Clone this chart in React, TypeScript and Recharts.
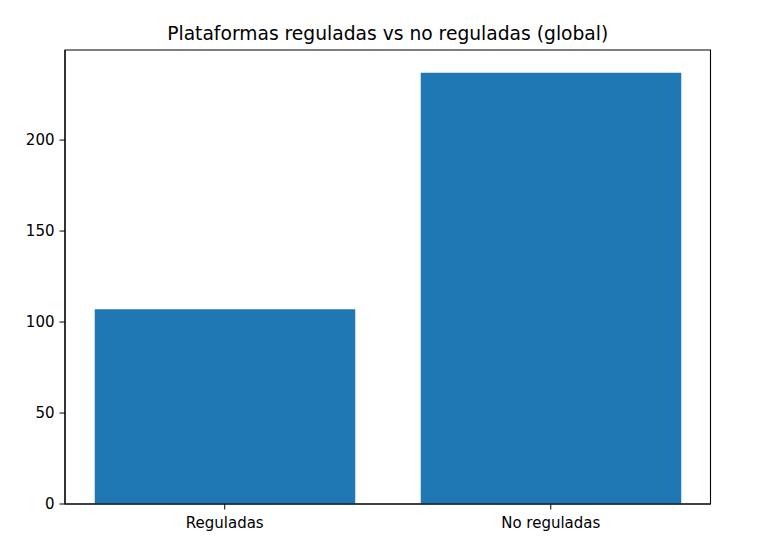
import React from "react";
import { BarChart, Bar, XAxis, YAxis, ReferenceArea } from "recharts";

const categories = ["Reguladas", "No reguladas"];
const positions = [0, 1];
const counts = [107, 237];
const yTicks = [0, 50, 100, 150, 200];

const data = categories.map((c, i) => ({ name: c, x: positions[i], value: counts[i] }));

const FONT = "DejaVu Sans, Verdana, sans-serif";
const X_DOMAIN: [number, number] = [-0.49, 1.49];
const Y_DOMAIN: [number, number] = [0, 249.5];

const XTick = (props: any) => {
  const { x, y, payload } = props;
  return (
    <text x={x} y={y + 18.5} textAnchor="middle" fontFamily={FONT} fontSize={15} fill="#000">
      {categories[payload.value]}
    </text>
  );
};

const YTick = (props: any) => {
  const { x, y, payload } = props;
  return (
    <text x={x - 5} y={y + 5.3} textAnchor="end" fontFamily={FONT} fontSize={15} fill="#000">
      {payload.value}
    </text>
  );
};

export default function App() {
  return (
    <div style={{ position: "absolute", left: 0, top: 0, width: 783, height: 546, background: "#fff" }}>
      <div
        style={{
          position: "absolute",
          left: 0,
          width: 775.5,
          top: 25.2,
          textAlign: "center",
          fontFamily: FONT,
          fontSize: 18.7,
          lineHeight: "18px",
          color: "#000",
          whiteSpace: "nowrap",
        }}
      >
        Plataformas reguladas vs no reguladas (global)
      </div>
      <BarChart
        width={783}
        height={546}
        data={data}
        margin={{ top: 50, right: 72.5, bottom: 12, left: 15 }}
      >
        <XAxis
          dataKey="x"
          type="number"
          domain={X_DOMAIN}
          ticks={positions}
          allowDataOverflow
          height={30}
          tickSize={5.5}
          tickMargin={0}
          tickLine={{ stroke: "#000", strokeWidth: 1 }}
          axisLine={{ stroke: "#000", strokeWidth: 1.1 }}
          tick={<XTick />}
          interval={0}
        />
        <YAxis
          type="number"
          domain={Y_DOMAIN}
          ticks={yTicks}
          allowDataOverflow
          width={50}
          tickSize={5.5}
          tickMargin={0}
          tickLine={{ stroke: "#000", strokeWidth: 1 }}
          axisLine={{ stroke: "#000", strokeWidth: 1.1 }}
          tick={<YTick />}
          interval={0}
        />
        <Bar dataKey="value" fill="#1f77b4" barSize={260.5} isAnimationActive={false} />
        <ReferenceArea
          x1={X_DOMAIN[0]}
          x2={X_DOMAIN[1]}
          y1={Y_DOMAIN[0]}
          y2={Y_DOMAIN[1]}
          fill="none"
          fillOpacity={0}
          stroke="#000"
          strokeWidth={1.1}
          strokeOpacity={1}
          ifOverflow="visible"
        />
      </BarChart>
    </div>
  );
}
